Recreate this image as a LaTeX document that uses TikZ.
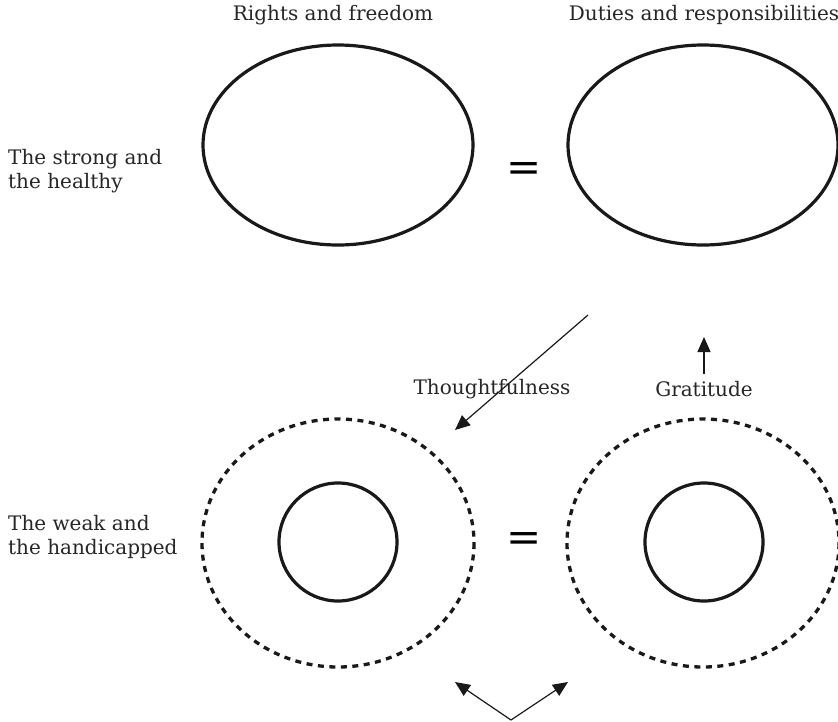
\documentclass[tikz,border=0pt]{standalone}
\usepackage{fontspec}
\setmainfont{DejaVu Serif}
\usetikzlibrary{arrows.meta}
\begin{document}
\begin{tikzpicture}[x=1pt,y=-1pt,
  lbl/.style={font=\fontsize{20}{24}\selectfont, text=black!85, inner sep=0pt},
  bigcirc/.style={draw=black!90, line width=3.2pt},
  dashcirc/.style={draw=black!90, line width=3.3pt, dash pattern=on 6pt off 5.5pt},
  conn/.style={draw=black!90, line width=1.2pt, -{Triangle[length=15pt,width=13pt]}},
  eqs/.style={font=\fontsize{42}{42}\selectfont, inner sep=0pt}]
\useasboundingbox (0,0) rectangle (838,721);
% ellipses
\draw[bigcirc] (338,145) ellipse [x radius=135, y radius=100];
\draw[bigcirc] (703,145) ellipse [x radius=135, y radius=100];
\draw[dashcirc] (338,543) ellipse [x radius=136, y radius=124];
\draw[dashcirc] (703,543) ellipse [x radius=136, y radius=124];
\draw[bigcirc] (338,542) circle [radius=59];
\draw[bigcirc] (704,542) circle [radius=59];
% equals
\node[eqs] (eq1) at (524,172) {=};
\node[eqs] (eq2) at (524,542) {=};
% labels
\node[lbl] (rf) at (333,15) {Rights and freedom};
\node[lbl] (dr) at (704,15) {Duties and responsibilities};
\node[lbl, anchor=west, align=left] (sh) at (8,171) {The strong and\\the healthy};
\node[lbl, anchor=west, align=left] (wh) at (8,537) {The weak and\\the handicapped};
\node[lbl] (th) at (492,389) {Thoughtfulness};
\node[lbl] (gr) at (704,389) {Gratitude};
% arrows
\coordinate (a1) at (588,315);
\coordinate (a1e) at (455,430);
\draw[conn] (a1) -- (a1e);
\coordinate (g1) at (704,374);
\coordinate (g2) at (704,337);
\draw[conn] (g1) -- (g2);
\coordinate (v) at (511,720);
\coordinate (vl) at (455,682);
\coordinate (vr) at (568,682);
\draw[conn] (v) -- (vl);
\draw[conn] (v) -- (vr);
\end{tikzpicture}
\end{document}
